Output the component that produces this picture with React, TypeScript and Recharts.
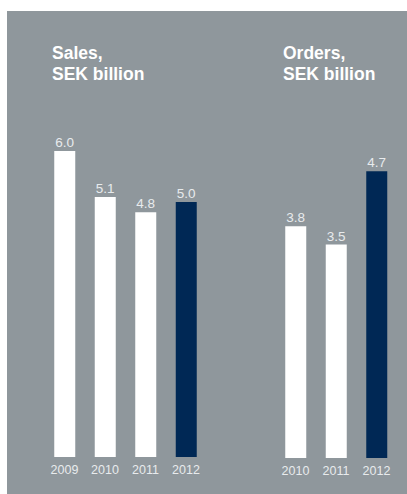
import React from "react";
import { BarChart, Bar, XAxis, YAxis, Cell, LabelList } from "recharts";

// values
const salesYears = ["2009", "2010", "2011", "2012"];
const salesValues = [6.0, 5.1, 4.8, 5.0];
const orderYears = ["2010", "2011", "2012"];
const orderValues = [3.8, 3.5, 4.7];

const BG = "#8f979c";
const NAVY = "#002855";
const WHITE = "#ffffff";
const TEXT = "#e8ebed";
const FONT = "'Liberation Sans', Arial, Helvetica, sans-serif";

const salesData = salesYears.map((year, i) => ({ year, value: salesValues[i] }));
const orderData = orderYears.map((year, i) => ({ year, value: orderValues[i] }));

const YearTick = (props: any) => {
  const { x, y, payload } = props;
  return (
    <text x={x} y={y + 17} textAnchor="middle" fill={TEXT} fontSize={12.5} fontFamily={FONT}>
      {payload.value}
    </text>
  );
};

const fmt = (v: any) => Number(v).toFixed(1);

function Title({ left, text }: { left: number; text: string }) {
  return (
    <div
      style={{
        position: "absolute",
        left,
        top: 43,
        color: WHITE,
        fontFamily: FONT,
        fontWeight: "bold",
        fontSize: 17.5,
        lineHeight: "21px",
        whiteSpace: "pre",
      }}
    >
      {text}
    </div>
  );
}

export default function App() {
  return (
    <div style={{ position: "absolute", left: 0, top: 0, width: 407, height: 494 }}>
      {/* grey panel */}
      <div style={{ position: "absolute", left: 7, top: 11, width: 400, height: 483, background: BG }} />

      <Title left={52} text={"Sales,\nSEK billion"} />
      <Title left={283} text={"Orders,\nSEK billion"} />

      {/* Sales */}
      <div style={{ position: "absolute", left: 0, top: 0 }}>
        <BarChart
          width={220}
          height={494}
          data={salesData}
          margin={{ top: 151, right: 13.75, bottom: 7, left: 44.25 }}
        >
          <XAxis dataKey="year" axisLine={false} tickLine={false} tickSize={0} tickMargin={0} tick={<YearTick />} height={30} interval={0} />
          <YAxis hide domain={[0, 6]} />
          <Bar dataKey="value" barSize={21} isAnimationActive={false}>
            {salesData.map((d, i) => (
              <Cell key={d.year} fill={i === salesData.length - 1 ? NAVY : WHITE} />
            ))}
            <LabelList dataKey="value" position="top" offset={4} formatter={fmt} fill={TEXT} fontSize={13.5} fontFamily={FONT} />
          </Bar>
        </BarChart>
      </div>

      {/* Orders */}
      <div style={{ position: "absolute", left: 220, top: 0 }}>
        <BarChart
          width={187}
          height={494}
          data={orderData}
          margin={{ top: 153, right: 10.25, bottom: 6, left: 55.25 }}
        >
          <XAxis dataKey="year" axisLine={false} tickLine={false} tickSize={0} tickMargin={0} tick={<YearTick />} height={30} interval={0} />
          <YAxis hide domain={[0, 5]} />
          <Bar dataKey="value" barSize={21} isAnimationActive={false}>
            {orderData.map((d, i) => (
              <Cell key={d.year} fill={i === orderData.length - 1 ? NAVY : WHITE} />
            ))}
            <LabelList dataKey="value" position="top" offset={4} formatter={fmt} fill={TEXT} fontSize={13.5} fontFamily={FONT} />
          </Bar>
        </BarChart>
      </div>
    </div>
  );
}
